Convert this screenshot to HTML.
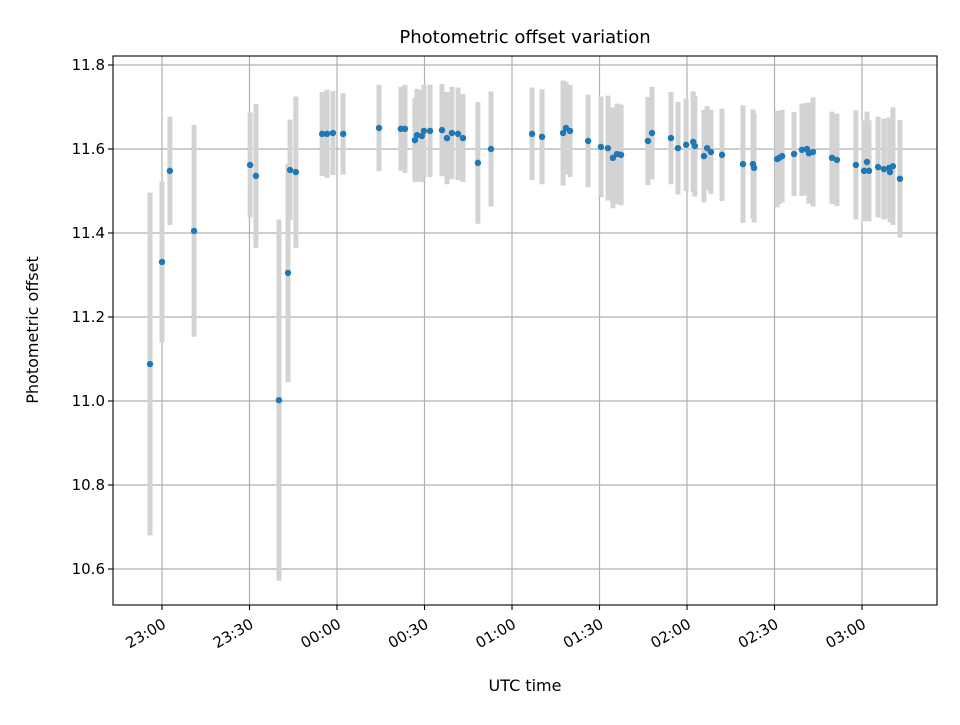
<!DOCTYPE html>
<html><head><meta charset="utf-8"><style>
body{margin:0;background:#fff;}
svg{font-family:"DejaVu Sans","Liberation Sans",sans-serif;}
</style></head><body>
<svg id="chart" width="960" height="720" viewBox="0 0 960 720" xmlns="http://www.w3.org/2000/svg">
<rect width="960" height="720" fill="#fff"/>
<g id="grid"></g>
<g id="bars"></g>
<g id="pts"></g>
<rect x="113" y="56" width="824" height="549" fill="none" stroke="#000" stroke-width="1.1"/>
<g id="ticks"></g>
<text x="525" y="43" font-size="18" text-anchor="middle">Photometric offset variation</text>
<text x="525" y="691" font-size="16" text-anchor="middle">UTC time</text>
<text x="38" y="330" font-size="16" text-anchor="middle" transform="rotate(-90 38 330)">Photometric offset</text>
</svg>
<script>
// minutes since 23:00 UTC
const times=[-4.1,0,2.7,11.0,30.2,32.2,40.1,43.2,43.9,45.9,54.9,56.6,58.6,62.1,74.4,81.9,83.3,86.7,87.4,89.1,89.8,91.9,96.0,97.7,99.4,101.5,103.2,108.3,112.8,126.9,130.3,137.5,138.5,139.9,146.1,150.5,152.9,154.6,156.0,157.4,166.6,168.0,174.5,176.9,179.7,182.1,182.7,185.8,186.9,188.2,192.0,199.2,202.6,203.0,210.9,211.6,212.6,216.7,219.4,221.1,221.8,223.2,229.7,231.4,237.9,240.7,241.7,242.4,245.5,247.5,249.3,249.6,250.6,253.0];
const offsets=[11.088,11.331,11.548,11.405,11.562,11.536,11.002,11.305,11.55,11.545,11.636,11.636,11.638,11.636,11.65,11.648,11.648,11.621,11.633,11.631,11.643,11.643,11.645,11.626,11.638,11.636,11.626,11.567,11.60,11.636,11.629,11.638,11.65,11.643,11.619,11.605,11.602,11.579,11.588,11.586,11.619,11.638,11.626,11.602,11.61,11.617,11.607,11.583,11.602,11.593,11.586,11.564,11.564,11.555,11.576,11.579,11.583,11.588,11.598,11.60,11.59,11.593,11.579,11.574,11.562,11.548,11.569,11.548,11.557,11.552,11.555,11.545,11.559,11.529];
const errors=[0.408,0.192,0.129,0.252,0.125,0.171,0.43,0.26,0.12,0.18,0.10,0.105,0.10,0.097,0.103,0.10,0.105,0.10,0.11,0.11,0.11,0.11,0.11,0.11,0.11,0.11,0.105,0.145,0.137,0.11,0.113,0.125,0.11,0.11,0.11,0.12,0.125,0.12,0.12,0.12,0.105,0.11,0.11,0.11,0.11,0.12,0.12,0.11,0.10,0.10,0.11,0.14,0.13,0.13,0.115,0.11,0.11,0.10,0.11,0.11,0.12,0.13,0.11,0.11,0.13,0.12,0.12,0.12,0.12,0.12,0.12,0.12,0.14,0.14];
const xTickMinutes=[0,30,60,90,120,150,180,210,240];
const xTickLabels=["23:00","23:30","00:00","00:30","01:00","01:30","02:00","02:30","03:00"];
const yTicks=[10.6,10.8,11.0,11.2,11.4,11.6,11.8];

const NS="http://www.w3.org/2000/svg";
const X0=113,X1=937,Y0=56,Y1=605;
const xMin=(X0-162)/2.9167, xMax=(X1-162)/2.9167;
const yMin=10.5143, yMax=11.8214;
function xs(m){return X0+(m-xMin)/(xMax-xMin)*(X1-X0);}
function ys(v){return Y1-(v-yMin)/(yMax-yMin)*(Y1-Y0);}
function mk(tag,attrs,parent){const e=document.createElementNS(NS,tag);for(const k in attrs)e.setAttribute(k,attrs[k]);parent.appendChild(e);return e;}
const grid=document.getElementById('grid'),ticks=document.getElementById('ticks'),bars=document.getElementById('bars'),pts=document.getElementById('pts');

xTickMinutes.forEach((m,i)=>{
  const x=xs(m);
  const g=mk('line',{x1:x,x2:x,y1:Y0,y2:Y1,stroke:'#b0b0b0','stroke-width':1.2},grid);
  
  
  const t=mk('line',{x1:x,x2:x,y1:Y1,y2:Y1+5,stroke:'#000','stroke-width':1.1},ticks);
  
  
  const lb=mk('text',{x:x+5,y:Y1+22,'font-size':15,'text-anchor':'end',transform:`rotate(-30 ${x+5} ${Y1+22})`},ticks);
  lb.textContent=xTickLabels[i];
  
  
});
yTicks.forEach(v=>{
  const y=ys(v);
  const g=mk('line',{x1:X0,x2:X1,y1:y,y2:y,stroke:'#b0b0b0','stroke-width':1.2},grid);
  
  
  const t=mk('line',{x1:X0-5,x2:X0,y1:y,y2:y,stroke:'#000','stroke-width':1.1},ticks);
  
  
  const lb=mk('text',{x:X0-8,y:y+5,'font-size':15,'text-anchor':'end'},ticks);
  lb.textContent=v.toFixed(1);
  
  
});
times.forEach((m,i)=>{
  const x=xs(m);
  const b=mk('line',{x1:x,x2:x,y1:ys(offsets[i]+errors[i]),y2:ys(offsets[i]-errors[i]),stroke:'#d3d3d3','stroke-width':5},bars);
  
  
  const c=mk('circle',{cx:x,cy:ys(offsets[i]),r:3.2,fill:'#1f77b4'},pts);
  
  
});
</script>
</body></html>
